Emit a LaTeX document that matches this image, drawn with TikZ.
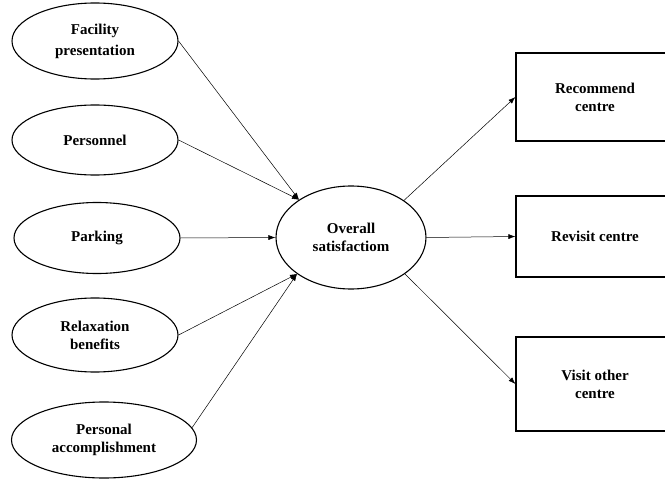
\documentclass[tikz,border=0pt]{standalone}
\usepackage{fontspec}
\setmainfont{Liberation Serif}
\usetikzlibrary{shapes.geometric,arrows.meta}
\tikzset{
  lbl/.style={font=\fontsize{15}{18}\selectfont\bfseries, align=center, inner sep=0pt},
  oval/.style={lbl, draw, ellipse, line width=1.1pt, minimum width=#1},
  oval/.default=166pt,
  outbox/.style={lbl, draw, rectangle, line width=1.2pt, minimum width=158pt},
  link/.style={line width=0.5pt, -{Latex[length=7pt,width=5pt]}}
}
\begin{document}
\begin{tikzpicture}[x=1pt,y=-1pt]
\path[use as bounding box, clip] (0,0) rectangle (665,479);
\node[oval, minimum height=76pt] (fac) at (95,41) {Facility\\[3pt]presentation};
\node[oval, minimum height=70pt] (per) at (95,140) {Personnel};
\node[oval, minimum height=71pt] (park) at (97,238) {Parking};
\node[oval, minimum height=74pt] (rel) at (95,335) {Relaxation\\benefits};
\node[oval=185pt, minimum height=76pt] (acc) at (104,440) {Personal\\accomplishment};
\node[oval=150pt, minimum height=103pt] (ov) at (351,237.5) {Overall\\satisfactiom};
\node[outbox, minimum height=88pt] (rec) at (595,97) {Recommend\\centre};
\node[outbox, minimum height=81pt] (rev) at (595,236.5) {Revisit centre};
\node[outbox, minimum height=94pt] (vis) at (595,384) {Visit other\\centre};
\draw[link] (fac.east) -- (ov.144);
\draw[link] (per.east) -- (ov.144);
\draw[link] (park.east) -- (ov.west);
\draw[link] (rel.east) -- (ov.214);
\draw[link] (acc.8) -- (ov.214);
\draw[link] (ov.35) -- (rec.west);
\draw[link] (ov.east) -- (rev.west);
\draw[link] (ov.-34) -- (vis.west);
\end{tikzpicture}
\end{document}
